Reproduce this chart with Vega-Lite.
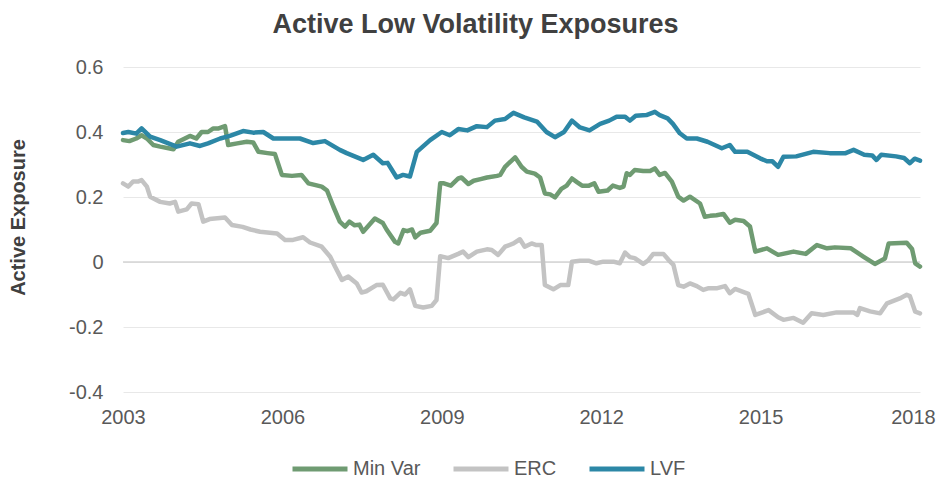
{
  "$schema": "https://vega.github.io/schema/vega-lite/v6.json",
  "width": 797,
  "height": 325,
  "autosize": {"type": "none"},
  "padding": {"left": 123, "top": 67, "right": 19, "bottom": 86},
  "background": "white",
  "title": {
    "text": "Active Low Volatility Exposures",
    "font": "Liberation Sans",
    "fontSize": 27,
    "fontWeight": "bold",
    "color": "#404040",
    "anchor": "middle",
    "baseline": "alphabetic",
    "dx": -46,
    "dy": 29,
    "offset": 26
  },
  "config": {
    "view": {"stroke": null},
    "font": "Liberation Sans"
  },
  "datasets": {
    "series": [
      {"s":"Min Var","t":2003.00,"v":0.375},{"s":"Min Var","t":2003.12,"v":0.372},{"s":"Min Var","t":2003.25,"v":0.38},{"s":"Min Var","t":2003.35,"v":0.39},{"s":"Min Var","t":2003.45,"v":0.38},{"s":"Min Var","t":2003.57,"v":0.36},{"s":"Min Var","t":2003.70,"v":0.355},{"s":"Min Var","t":2003.95,"v":0.347},{"s":"Min Var","t":2004.04,"v":0.37},{"s":"Min Var","t":2004.26,"v":0.388},{"s":"Min Var","t":2004.38,"v":0.38},{"s":"Min Var","t":2004.48,"v":0.40},{"s":"Min Var","t":2004.60,"v":0.40},{"s":"Min Var","t":2004.70,"v":0.411},{"s":"Min Var","t":2004.80,"v":0.411},{"s":"Min Var","t":2004.92,"v":0.418},{"s":"Min Var","t":2004.98,"v":0.36},{"s":"Min Var","t":2005.15,"v":0.365},{"s":"Min Var","t":2005.33,"v":0.37},{"s":"Min Var","t":2005.45,"v":0.368},{"s":"Min Var","t":2005.55,"v":0.339},{"s":"Min Var","t":2005.72,"v":0.335},{"s":"Min Var","t":2005.86,"v":0.332},{"s":"Min Var","t":2005.99,"v":0.268},{"s":"Min Var","t":2006.18,"v":0.265},{"s":"Min Var","t":2006.36,"v":0.268},{"s":"Min Var","t":2006.49,"v":0.242},{"s":"Min Var","t":2006.74,"v":0.232},{"s":"Min Var","t":2006.84,"v":0.22},{"s":"Min Var","t":2006.96,"v":0.17},{"s":"Min Var","t":2007.08,"v":0.124},{"s":"Min Var","t":2007.18,"v":0.109},{"s":"Min Var","t":2007.26,"v":0.124},{"s":"Min Var","t":2007.36,"v":0.113},{"s":"Min Var","t":2007.45,"v":0.115},{"s":"Min Var","t":2007.52,"v":0.093},{"s":"Min Var","t":2007.74,"v":0.134},{"s":"Min Var","t":2007.89,"v":0.12},{"s":"Min Var","t":2007.96,"v":0.10},{"s":"Min Var","t":2008.12,"v":0.062},{"s":"Min Var","t":2008.18,"v":0.057},{"s":"Min Var","t":2008.28,"v":0.098},{"s":"Min Var","t":2008.35,"v":0.095},{"s":"Min Var","t":2008.44,"v":0.10},{"s":"Min Var","t":2008.50,"v":0.076},{"s":"Min Var","t":2008.60,"v":0.09},{"s":"Min Var","t":2008.78,"v":0.096},{"s":"Min Var","t":2008.90,"v":0.12},{"s":"Min Var","t":2008.97,"v":0.242},{"s":"Min Var","t":2009.04,"v":0.242},{"s":"Min Var","t":2009.17,"v":0.235},{"s":"Min Var","t":2009.31,"v":0.257},{"s":"Min Var","t":2009.37,"v":0.26},{"s":"Min Var","t":2009.50,"v":0.24},{"s":"Min Var","t":2009.60,"v":0.25},{"s":"Min Var","t":2009.73,"v":0.255},{"s":"Min Var","t":2009.85,"v":0.26},{"s":"Min Var","t":2010.04,"v":0.265},{"s":"Min Var","t":2010.10,"v":0.268},{"s":"Min Var","t":2010.19,"v":0.293},{"s":"Min Var","t":2010.38,"v":0.322},{"s":"Min Var","t":2010.50,"v":0.293},{"s":"Min Var","t":2010.60,"v":0.278},{"s":"Min Var","t":2010.75,"v":0.272},{"s":"Min Var","t":2010.85,"v":0.26},{"s":"Min Var","t":2010.94,"v":0.211},{"s":"Min Var","t":2011.04,"v":0.208},{"s":"Min Var","t":2011.13,"v":0.199},{"s":"Min Var","t":2011.25,"v":0.225},{"s":"Min Var","t":2011.35,"v":0.235},{"s":"Min Var","t":2011.45,"v":0.257},{"s":"Min Var","t":2011.55,"v":0.245},{"s":"Min Var","t":2011.64,"v":0.235},{"s":"Min Var","t":2011.77,"v":0.235},{"s":"Min Var","t":2011.87,"v":0.242},{"s":"Min Var","t":2011.95,"v":0.216},{"s":"Min Var","t":2012.12,"v":0.22},{"s":"Min Var","t":2012.22,"v":0.235},{"s":"Min Var","t":2012.35,"v":0.228},{"s":"Min Var","t":2012.42,"v":0.232},{"s":"Min Var","t":2012.48,"v":0.273},{"s":"Min Var","t":2012.54,"v":0.268},{"s":"Min Var","t":2012.63,"v":0.283},{"s":"Min Var","t":2012.79,"v":0.28},{"s":"Min Var","t":2012.92,"v":0.28},{"s":"Min Var","t":2013.01,"v":0.288},{"s":"Min Var","t":2013.10,"v":0.268},{"s":"Min Var","t":2013.20,"v":0.274},{"s":"Min Var","t":2013.33,"v":0.247},{"s":"Min Var","t":2013.45,"v":0.201},{"s":"Min Var","t":2013.55,"v":0.189},{"s":"Min Var","t":2013.67,"v":0.201},{"s":"Min Var","t":2013.86,"v":0.18},{"s":"Min Var","t":2013.95,"v":0.139},{"s":"Min Var","t":2014.05,"v":0.142},{"s":"Min Var","t":2014.17,"v":0.144},{"s":"Min Var","t":2014.30,"v":0.148},{"s":"Min Var","t":2014.42,"v":0.121},{"s":"Min Var","t":2014.52,"v":0.13},{"s":"Min Var","t":2014.68,"v":0.126},{"s":"Min Var","t":2014.80,"v":0.109},{"s":"Min Var","t":2014.90,"v":0.032},{"s":"Min Var","t":2015.12,"v":0.042},{"s":"Min Var","t":2015.33,"v":0.022},{"s":"Min Var","t":2015.62,"v":0.032},{"s":"Min Var","t":2015.85,"v":0.025},{"s":"Min Var","t":2016.06,"v":0.052},{"s":"Min Var","t":2016.25,"v":0.042},{"s":"Min Var","t":2016.40,"v":0.045},{"s":"Min Var","t":2016.70,"v":0.042},{"s":"Min Var","t":2016.94,"v":0.016},{"s":"Min Var","t":2017.15,"v":-0.006},{"s":"Min Var","t":2017.34,"v":0.011},{"s":"Min Var","t":2017.41,"v":0.057},{"s":"Min Var","t":2017.75,"v":0.059},{"s":"Min Var","t":2017.85,"v":0.04},{"s":"Min Var","t":2017.91,"v":-0.004},{"s":"Min Var","t":2018.00,"v":-0.014},

      {"s":"ERC","t":2003.00,"v":0.242},{"s":"ERC","t":2003.10,"v":0.232},{"s":"ERC","t":2003.19,"v":0.248},{"s":"ERC","t":2003.29,"v":0.248},{"s":"ERC","t":2003.35,"v":0.252},{"s":"ERC","t":2003.45,"v":0.232},{"s":"ERC","t":2003.51,"v":0.201},{"s":"ERC","t":2003.70,"v":0.185},{"s":"ERC","t":2003.88,"v":0.18},{"s":"ERC","t":2003.98,"v":0.185},{"s":"ERC","t":2004.04,"v":0.155},{"s":"ERC","t":2004.20,"v":0.162},{"s":"ERC","t":2004.29,"v":0.18},{"s":"ERC","t":2004.42,"v":0.178},{"s":"ERC","t":2004.51,"v":0.124},{"s":"ERC","t":2004.63,"v":0.132},{"s":"ERC","t":2004.92,"v":0.137},{"s":"ERC","t":2005.05,"v":0.114},{"s":"ERC","t":2005.25,"v":0.108},{"s":"ERC","t":2005.40,"v":0.10},{"s":"ERC","t":2005.58,"v":0.093},{"s":"ERC","t":2005.90,"v":0.088},{"s":"ERC","t":2006.05,"v":0.068},{"s":"ERC","t":2006.20,"v":0.068},{"s":"ERC","t":2006.39,"v":0.076},{"s":"ERC","t":2006.52,"v":0.06},{"s":"ERC","t":2006.74,"v":0.047},{"s":"ERC","t":2006.90,"v":0.016},{"s":"ERC","t":2006.99,"v":-0.014},{"s":"ERC","t":2007.12,"v":-0.055},{"s":"ERC","t":2007.24,"v":-0.045},{"s":"ERC","t":2007.40,"v":-0.066},{"s":"ERC","t":2007.49,"v":-0.094},{"s":"ERC","t":2007.58,"v":-0.09},{"s":"ERC","t":2007.77,"v":-0.071},{"s":"ERC","t":2007.89,"v":-0.07},{"s":"ERC","t":2008.03,"v":-0.112},{"s":"ERC","t":2008.09,"v":-0.115},{"s":"ERC","t":2008.22,"v":-0.095},{"s":"ERC","t":2008.31,"v":-0.1},{"s":"ERC","t":2008.40,"v":-0.084},{"s":"ERC","t":2008.50,"v":-0.135},{"s":"ERC","t":2008.65,"v":-0.14},{"s":"ERC","t":2008.81,"v":-0.135},{"s":"ERC","t":2008.90,"v":-0.117},{"s":"ERC","t":2008.97,"v":0.018},{"s":"ERC","t":2009.12,"v":0.012},{"s":"ERC","t":2009.31,"v":0.025},{"s":"ERC","t":2009.40,"v":0.032},{"s":"ERC","t":2009.50,"v":0.015},{"s":"ERC","t":2009.66,"v":0.032},{"s":"ERC","t":2009.85,"v":0.039},{"s":"ERC","t":2009.94,"v":0.037},{"s":"ERC","t":2010.06,"v":0.022},{"s":"ERC","t":2010.19,"v":0.047},{"s":"ERC","t":2010.35,"v":0.057},{"s":"ERC","t":2010.47,"v":0.07},{"s":"ERC","t":2010.56,"v":0.047},{"s":"ERC","t":2010.69,"v":0.057},{"s":"ERC","t":2010.78,"v":0.052},{"s":"ERC","t":2010.88,"v":0.052},{"s":"ERC","t":2010.94,"v":-0.071},{"s":"ERC","t":2011.10,"v":-0.084},{"s":"ERC","t":2011.23,"v":-0.071},{"s":"ERC","t":2011.38,"v":-0.071},{"s":"ERC","t":2011.45,"v":0.001},{"s":"ERC","t":2011.60,"v":0.004},{"s":"ERC","t":2011.76,"v":0.004},{"s":"ERC","t":2011.91,"v":-0.004},{"s":"ERC","t":2012.04,"v":0.001},{"s":"ERC","t":2012.23,"v":0.001},{"s":"ERC","t":2012.35,"v":-0.004},{"s":"ERC","t":2012.45,"v":0.029},{"s":"ERC","t":2012.54,"v":0.015},{"s":"ERC","t":2012.63,"v":0.012},{"s":"ERC","t":2012.79,"v":-0.006},{"s":"ERC","t":2012.88,"v":0.004},{"s":"ERC","t":2012.98,"v":0.025},{"s":"ERC","t":2013.17,"v":0.025},{"s":"ERC","t":2013.27,"v":0.006},{"s":"ERC","t":2013.36,"v":-0.009},{"s":"ERC","t":2013.45,"v":-0.071},{"s":"ERC","t":2013.55,"v":-0.076},{"s":"ERC","t":2013.67,"v":-0.066},{"s":"ERC","t":2013.80,"v":-0.074},{"s":"ERC","t":2013.92,"v":-0.086},{"s":"ERC","t":2014.01,"v":-0.081},{"s":"ERC","t":2014.17,"v":-0.081},{"s":"ERC","t":2014.33,"v":-0.074},{"s":"ERC","t":2014.42,"v":-0.096},{"s":"ERC","t":2014.52,"v":-0.083},{"s":"ERC","t":2014.77,"v":-0.098},{"s":"ERC","t":2014.90,"v":-0.163},{"s":"ERC","t":2015.15,"v":-0.148},{"s":"ERC","t":2015.33,"v":-0.17},{"s":"ERC","t":2015.43,"v":-0.178},{"s":"ERC","t":2015.62,"v":-0.172},{"s":"ERC","t":2015.80,"v":-0.187},{"s":"ERC","t":2015.96,"v":-0.158},{"s":"ERC","t":2016.18,"v":-0.163},{"s":"ERC","t":2016.43,"v":-0.155},{"s":"ERC","t":2016.75,"v":-0.155},{"s":"ERC","t":2016.82,"v":-0.163},{"s":"ERC","t":2016.87,"v":-0.142},{"s":"ERC","t":2017.06,"v":-0.152},{"s":"ERC","t":2017.25,"v":-0.158},{"s":"ERC","t":2017.38,"v":-0.127},{"s":"ERC","t":2017.62,"v":-0.112},{"s":"ERC","t":2017.75,"v":-0.101},{"s":"ERC","t":2017.81,"v":-0.105},{"s":"ERC","t":2017.91,"v":-0.153},{"s":"ERC","t":2018.00,"v":-0.158},

      {"s":"LVF","t":2003.00,"v":0.397},{"s":"LVF","t":2003.10,"v":0.40},{"s":"LVF","t":2003.25,"v":0.395},{"s":"LVF","t":2003.35,"v":0.411},{"s":"LVF","t":2003.51,"v":0.386},{"s":"LVF","t":2003.70,"v":0.375},{"s":"LVF","t":2004.01,"v":0.355},{"s":"LVF","t":2004.26,"v":0.365},{"s":"LVF","t":2004.45,"v":0.357},{"s":"LVF","t":2004.60,"v":0.365},{"s":"LVF","t":2004.83,"v":0.38},{"s":"LVF","t":2005.01,"v":0.388},{"s":"LVF","t":2005.26,"v":0.403},{"s":"LVF","t":2005.45,"v":0.398},{"s":"LVF","t":2005.64,"v":0.40},{"s":"LVF","t":2005.83,"v":0.38},{"s":"LVF","t":2006.33,"v":0.38},{"s":"LVF","t":2006.58,"v":0.366},{"s":"LVF","t":2006.80,"v":0.372},{"s":"LVF","t":2007.08,"v":0.345},{"s":"LVF","t":2007.21,"v":0.335},{"s":"LVF","t":2007.52,"v":0.314},{"s":"LVF","t":2007.71,"v":0.33},{"s":"LVF","t":2007.89,"v":0.304},{"s":"LVF","t":2007.98,"v":0.305},{"s":"LVF","t":2008.15,"v":0.26},{"s":"LVF","t":2008.27,"v":0.268},{"s":"LVF","t":2008.40,"v":0.263},{"s":"LVF","t":2008.53,"v":0.339},{"s":"LVF","t":2008.78,"v":0.375},{"s":"LVF","t":2009.00,"v":0.40},{"s":"LVF","t":2009.15,"v":0.39},{"s":"LVF","t":2009.31,"v":0.409},{"s":"LVF","t":2009.48,"v":0.405},{"s":"LVF","t":2009.66,"v":0.418},{"s":"LVF","t":2009.85,"v":0.415},{"s":"LVF","t":2010.00,"v":0.435},{"s":"LVF","t":2010.19,"v":0.44},{"s":"LVF","t":2010.35,"v":0.459},{"s":"LVF","t":2010.55,"v":0.445},{"s":"LVF","t":2010.79,"v":0.432},{"s":"LVF","t":2010.97,"v":0.40},{"s":"LVF","t":2011.13,"v":0.384},{"s":"LVF","t":2011.30,"v":0.40},{"s":"LVF","t":2011.45,"v":0.435},{"s":"LVF","t":2011.60,"v":0.414},{"s":"LVF","t":2011.78,"v":0.405},{"s":"LVF","t":2011.98,"v":0.425},{"s":"LVF","t":2012.15,"v":0.435},{"s":"LVF","t":2012.29,"v":0.447},{"s":"LVF","t":2012.45,"v":0.447},{"s":"LVF","t":2012.54,"v":0.435},{"s":"LVF","t":2012.65,"v":0.45},{"s":"LVF","t":2012.85,"v":0.452},{"s":"LVF","t":2013.01,"v":0.462},{"s":"LVF","t":2013.10,"v":0.452},{"s":"LVF","t":2013.25,"v":0.442},{"s":"LVF","t":2013.35,"v":0.425},{"s":"LVF","t":2013.48,"v":0.396},{"s":"LVF","t":2013.61,"v":0.38},{"s":"LVF","t":2013.80,"v":0.38},{"s":"LVF","t":2014.00,"v":0.37},{"s":"LVF","t":2014.27,"v":0.35},{"s":"LVF","t":2014.42,"v":0.36},{"s":"LVF","t":2014.52,"v":0.339},{"s":"LVF","t":2014.75,"v":0.339},{"s":"LVF","t":2014.99,"v":0.319},{"s":"LVF","t":2015.12,"v":0.31},{"s":"LVF","t":2015.22,"v":0.31},{"s":"LVF","t":2015.33,"v":0.293},{"s":"LVF","t":2015.43,"v":0.324},{"s":"LVF","t":2015.67,"v":0.325},{"s":"LVF","t":2015.99,"v":0.339},{"s":"LVF","t":2016.30,"v":0.335},{"s":"LVF","t":2016.60,"v":0.335},{"s":"LVF","t":2016.75,"v":0.345},{"s":"LVF","t":2016.95,"v":0.33},{"s":"LVF","t":2017.10,"v":0.328},{"s":"LVF","t":2017.18,"v":0.314},{"s":"LVF","t":2017.27,"v":0.33},{"s":"LVF","t":2017.55,"v":0.325},{"s":"LVF","t":2017.70,"v":0.32},{"s":"LVF","t":2017.81,"v":0.304},{"s":"LVF","t":2017.90,"v":0.318},{"s":"LVF","t":2018.00,"v":0.312}
    ]
  },
  "layer": [
    {
      "data": {"values": [{"z": 0}]},
      "mark": {"type": "rule", "color": "#d4d4d4", "strokeWidth": 1.5},
      "encoding": {
        "y": {"field": "z", "type": "quantitative", "scale": {"domain": [-0.4, 0.6]}}
      }
    },
    {
      "data": {"name": "series"},
      "mark": {"type": "line", "strokeWidth": 4.5, "strokeCap": "round", "strokeJoin": "round"},
      "encoding": {
        "x": {
          "field": "t",
          "type": "quantitative",
          "scale": {"domain": [2003, 2018], "nice": false, "zero": false},
          "axis": {
            "title": null,
            "values": [2003, 2006, 2009, 2012, 2015, 2018],
            "format": "d",
            "grid": false,
            "ticks": false,
            "domain": false,
            "labelFlush": false,
            "labelOffset": {"condition": {"test": "datum.value == 2018", "value": -7}, "value": 0},
            "labelFontSize": 20,
            "labelColor": "#595959",
            "labelPadding": 15,
            "labelFont": "Liberation Sans"
          }
        },
        "y": {
          "field": "v",
          "type": "quantitative",
          "scale": {"domain": [-0.4, 0.6], "nice": false},
          "axis": {
            "title": "Active Exposure",
            "titleFontSize": 20,
            "titleFontWeight": "bold",
            "titleColor": "#404040",
            "titleFont": "Liberation Sans",
            "titleX": -105,
            "titleY": 150,
            "titleAngle": 270,
            "titleAlign": "center",
            "titleBaseline": "middle",
            "values": [-0.4, -0.2, 0, 0.2, 0.4, 0.6],
            "labelExpr": "toString(round(datum.value*10)/10)",
            "grid": true,
            "gridColor": "#e8e8e8",
            "gridWidth": 1,
            "ticks": false,
            "domain": false,
            "labelFontSize": 20,
            "labelColor": "#595959",
            "labelPadding": 20,
            "labelFont": "Liberation Sans"
          }
        },
        "color": {
          "field": "s",
          "type": "nominal",
          "sort": ["Min Var", "ERC", "LVF"],
          "scale": {"domain": ["Min Var", "ERC", "LVF"], "range": ["#6f9b72", "#c3c3c3", "#2c87a6"]},
          "legend": {
            "title": null,
            "orient": "none",
            "direction": "horizontal",
            "legendX": 167,
            "legendY": 372,
            "symbolType": "stroke",
            "symbolSize": 3025,
            "symbolStrokeWidth": 5,
            "labelFontSize": 20,
            "labelColor": "#595959",
            "labelFont": "Liberation Sans",
            "labelOffset": 3,
            "columnPadding": 22
          }
        }
      }
    }
  ]
}
